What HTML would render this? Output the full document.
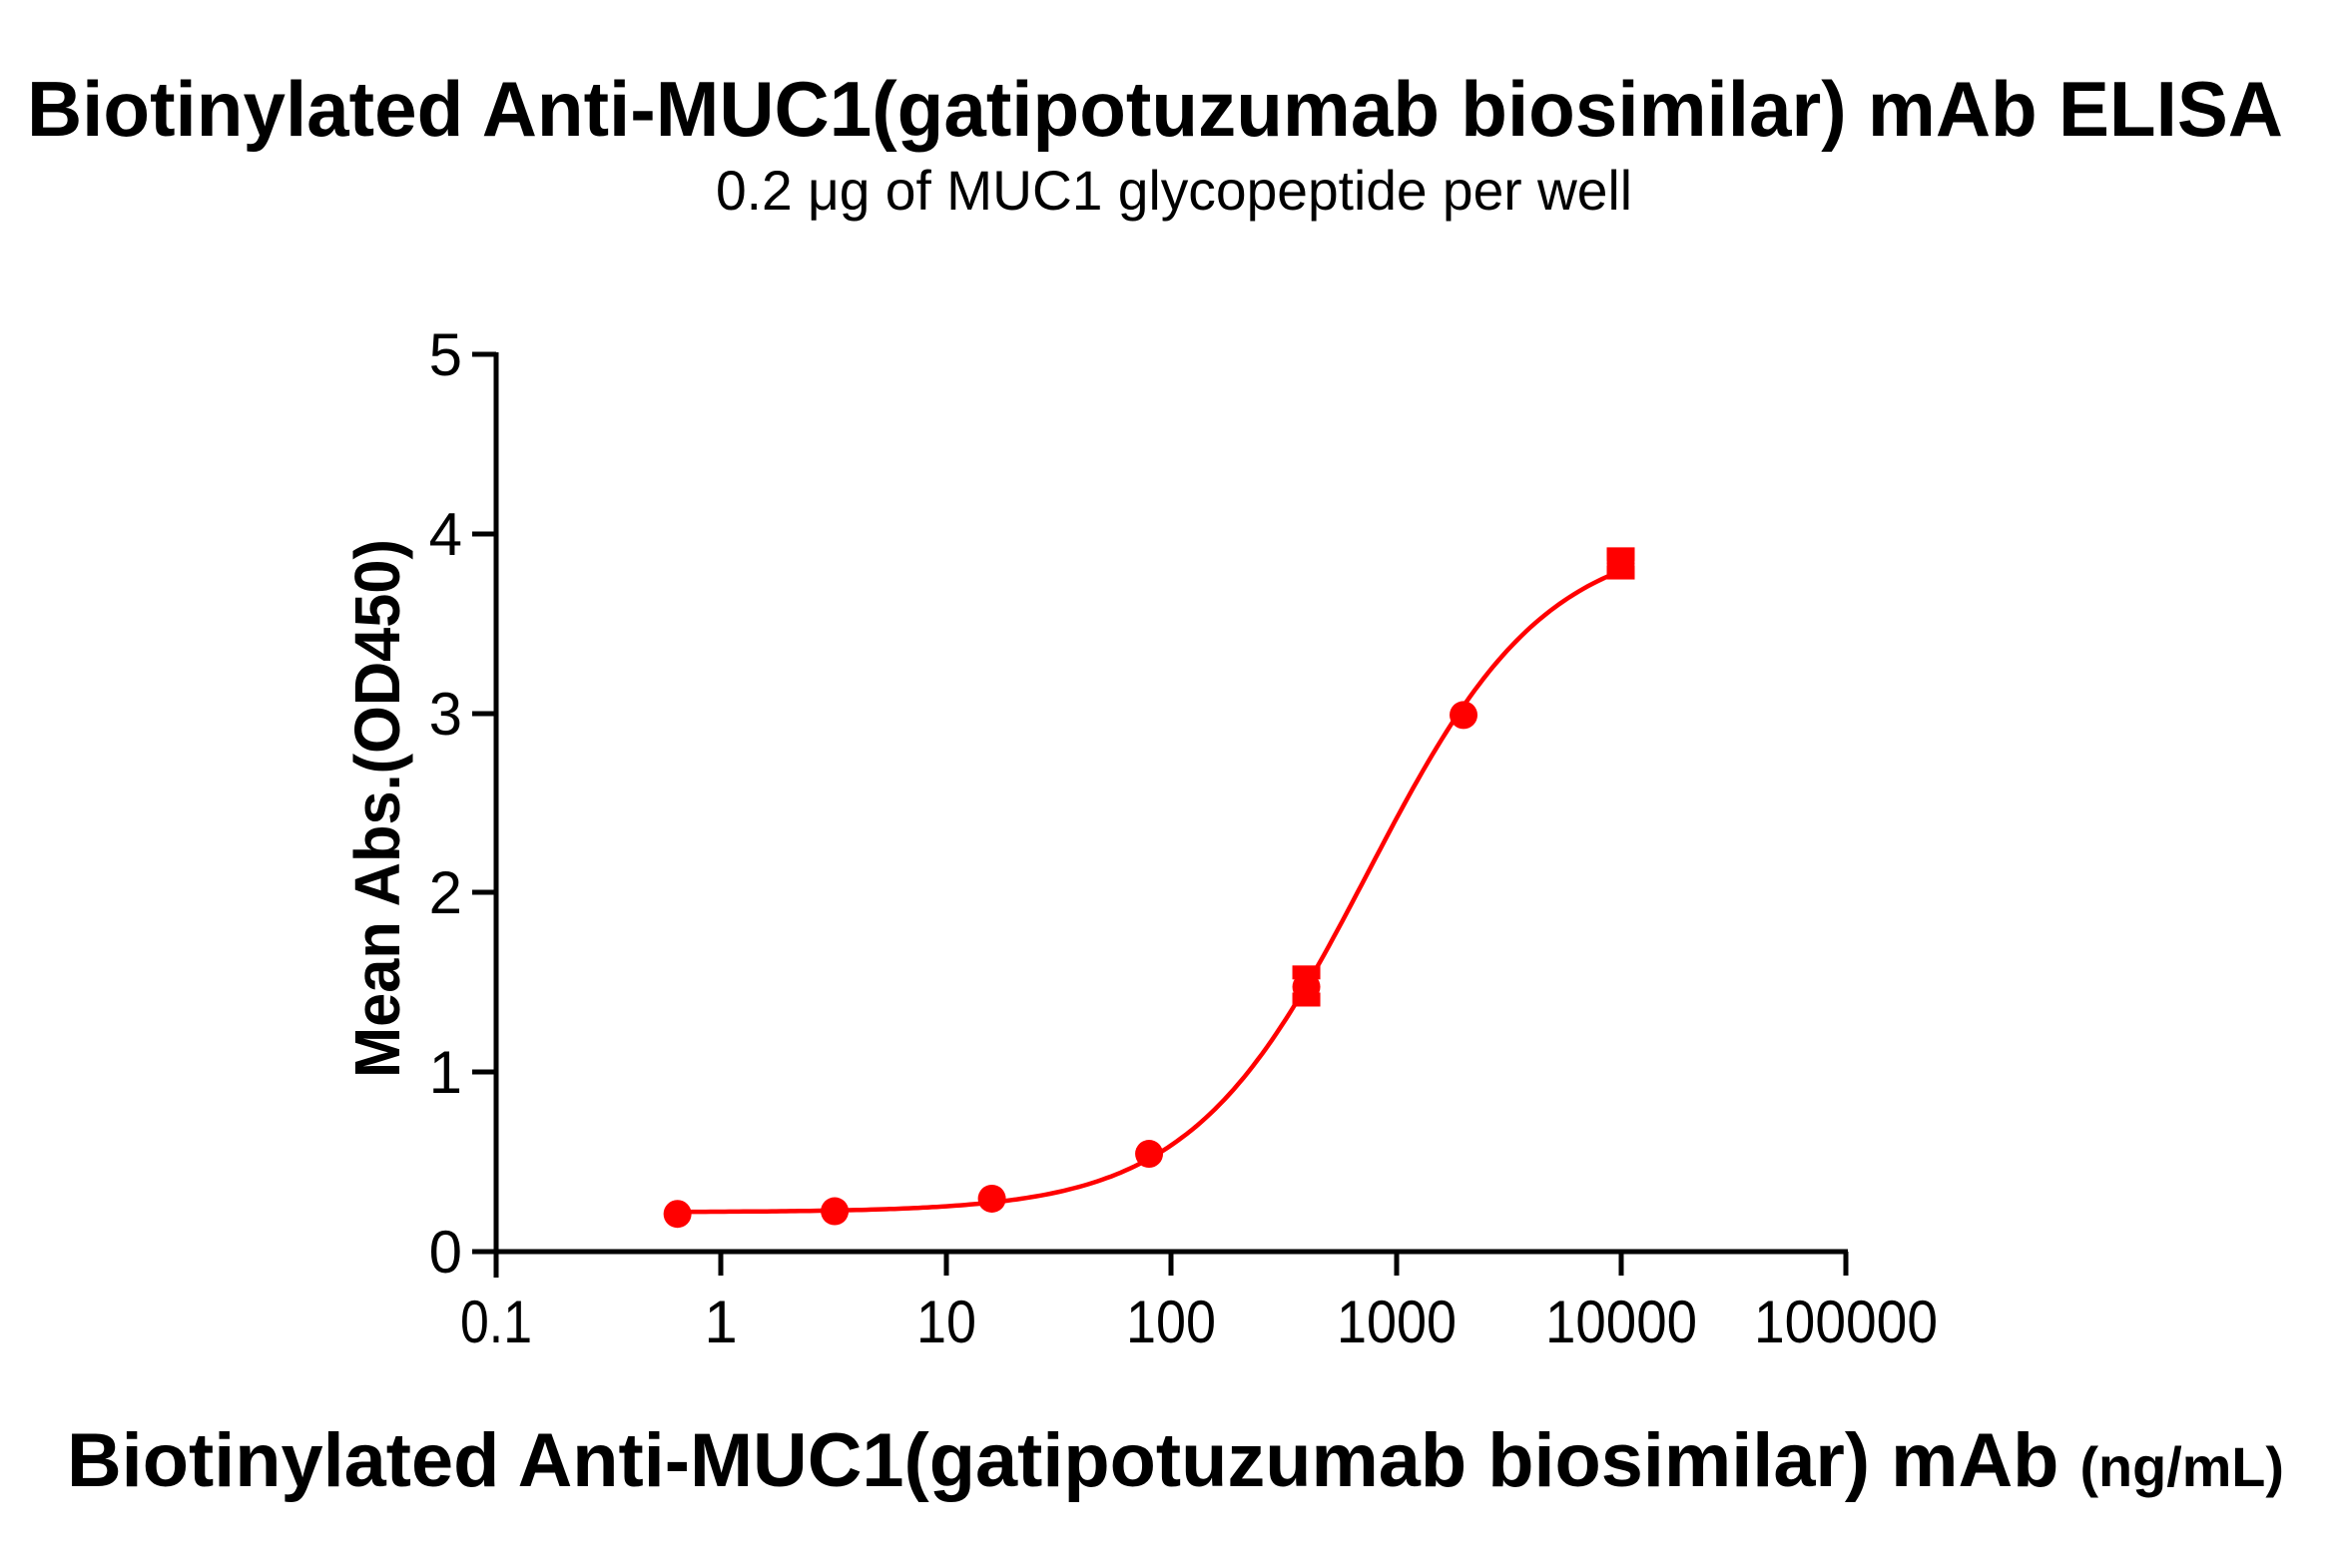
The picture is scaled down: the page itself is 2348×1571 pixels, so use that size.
<!DOCTYPE html>
<html><head><meta charset="utf-8"><style>html,body{margin:0;padding:0;background:#fff}svg{display:block}</style></head>
<body>
<svg id="s" width="2348" height="1571" viewBox="0 0 2348 1571" xmlns="http://www.w3.org/2000/svg" font-family="Liberation Sans, Arial, sans-serif">
<rect width="2348" height="1571" fill="#fff"/>
<text x="1157" y="136" font-size="78" font-weight="bold" text-anchor="middle" textLength="2260" lengthAdjust="spacingAndGlyphs">Biotinylated Anti-MUC1(gatipotuzumab biosimilar) mAb ELISA</text>
<text x="1176" y="210" font-size="56" text-anchor="middle" textLength="918" lengthAdjust="spacingAndGlyphs">0.2 μg of MUC1 glycopeptide per well</text>
<text transform="translate(400,810) rotate(-90)" font-size="64" font-weight="bold" text-anchor="middle" textLength="540" lengthAdjust="spacingAndGlyphs">Mean Abs.(OD450)</text>
<text x="67" y="1489" font-size="76" font-weight="bold" textLength="2221" lengthAdjust="spacingAndGlyphs">Biotinylated Anti-MUC1(gatipotuzumab biosimilar) mAb <tspan font-size="56">(ng/mL)</tspan></text>
<g stroke="#000" stroke-width="5" fill="none">
<line x1="497" y1="353" x2="497" y2="1280"/>
<line x1="495" y1="1254" x2="1851" y2="1254"/>
<line x1="473" y1="355" x2="497" y2="355"/>
<line x1="473" y1="535" x2="497" y2="535"/>
<line x1="473" y1="715" x2="497" y2="715"/>
<line x1="473" y1="894" x2="497" y2="894"/>
<line x1="473" y1="1074" x2="497" y2="1074"/>
<line x1="473" y1="1254" x2="497" y2="1254"/>
<line x1="722" y1="1254" x2="722" y2="1278"/>
<line x1="948" y1="1254" x2="948" y2="1278"/>
<line x1="1173" y1="1254" x2="1173" y2="1278"/>
<line x1="1399" y1="1254" x2="1399" y2="1278"/>
<line x1="1624" y1="1254" x2="1624" y2="1278"/>
<line x1="1849" y1="1254" x2="1849" y2="1278"/>
</g>
<g font-size="60" text-anchor="end">
<text x="463" y="376">5</text><text x="463" y="556">4</text><text x="463" y="736">3</text>
<text x="463" y="915">2</text><text x="463" y="1095">1</text><text x="463" y="1275">0</text>
</g>
<g font-size="60" text-anchor="middle" lengthAdjust="spacingAndGlyphs">
<text x="497" y="1345" textLength="72" lengthAdjust="spacingAndGlyphs">0.1</text><text x="722" y="1345">1</text><text x="948" y="1345" textLength="60" lengthAdjust="spacingAndGlyphs">10</text>
<text x="1173" y="1345" textLength="90" lengthAdjust="spacingAndGlyphs">100</text><text x="1399" y="1345" textLength="120" lengthAdjust="spacingAndGlyphs">1000</text><text x="1624" y="1345" textLength="152" lengthAdjust="spacingAndGlyphs">10000</text><text x="1849" y="1345" textLength="184" lengthAdjust="spacingAndGlyphs">100000</text>
</g>
<path id="curve" fill="none" stroke="#f00" stroke-width="4.5"/>
<g id="pts" fill="#f00"></g>
</svg>
<script>
(function(){
function X(c){return 497+(Math.log10(c)+1)*225.3;}
function Y(v){return 1254-v*179.8;}
function f(c){return 0.22+3.78/(1+Math.pow(750/c,1.1));}
var d="";
for(var i=0;i<=200;i++){var lc=Math.log10(0.64)+(Math.log10(10000)-Math.log10(0.64))*i/200;var c=Math.pow(10,lc);d+=(i?"L":"M")+X(c).toFixed(1)+" "+Y(f(c)).toFixed(1);}
document.getElementById("curve").setAttribute("d",d);
var data=[[0.64,0.21],[3.2,0.225],[16,0.295],[80,0.545],[400,1.475,1.41,1.55],[2000,2.99],[10000,3.835,3.79,3.88]];
var g=document.getElementById("pts"),h="";
data.forEach(function(p){var x=X(p[0]),y=Y(p[1]);
if(p[2]!==undefined){var y1=Y(p[2]),y2=Y(p[3]);
h+='<line x1="'+x+'" y1="'+y1+'" x2="'+x+'" y2="'+y2+'" stroke="#f00" stroke-width="5"/>';
h+='<rect x="'+(x-14)+'" y="'+(y2-8)+'" width="28" height="14"/>';
h+='<rect x="'+(x-14)+'" y="'+(y1-6)+'" width="28" height="14"/>';}
h+='<circle cx="'+x+'" cy="'+y+'" r="14"/>';});
g.innerHTML=h;
})();
</script>
</body></html>
